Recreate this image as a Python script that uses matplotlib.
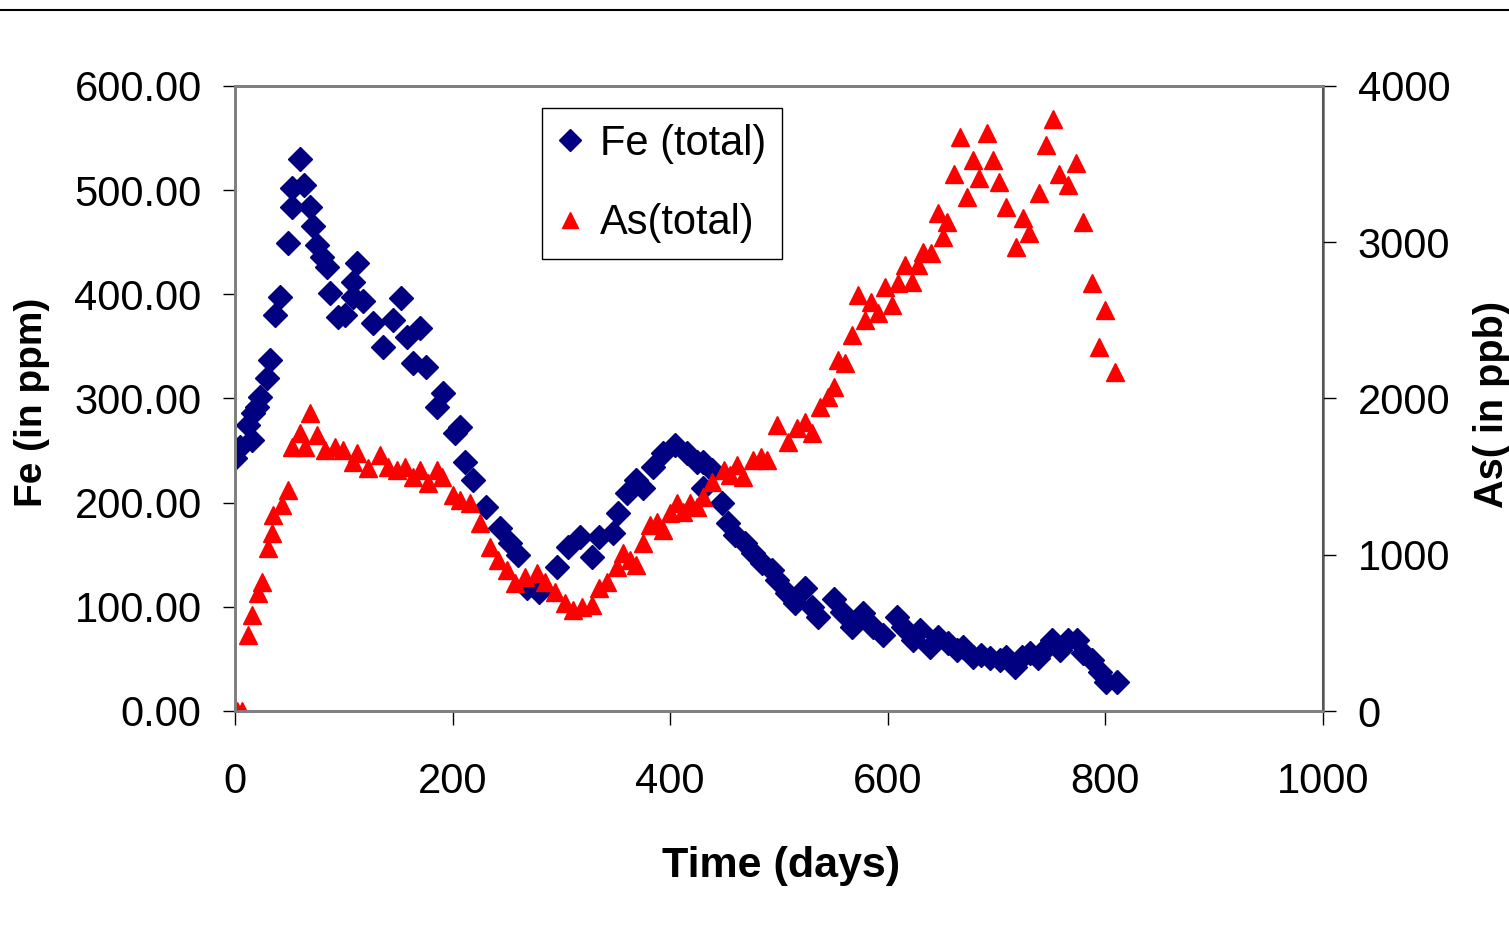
import matplotlib
matplotlib.use('Agg')
import matplotlib.pyplot as plt
from matplotlib.lines import Line2D

plt.rcParams['font.family'] = ['Liberation Sans', 'DejaVu Sans']

# Fe (total), ppm
fe_days = [0, 5, 12, 16, 17, 20, 23, 29, 32, 37, 41, 49, 52, 52, 60, 63, 69, 72, 75, 80,
           85, 87, 95, 101, 108, 108, 112, 118, 127, 136, 145, 153, 158, 164, 170, 176, 186, 191, 202, 207,
           211, 219, 231, 244, 253, 260, 268, 279, 296, 306, 317, 328, 335, 347, 352, 360, 369, 375, 384, 393,
           404, 415, 425, 430, 430, 438, 448, 453, 460, 469, 476, 484, 494, 498, 507, 515, 524, 530, 536, 551,
           558, 567, 577, 586, 596, 608, 614, 623, 630, 639, 646, 655, 664, 669, 678, 686, 694, 703, 709, 717,
           723, 731, 738, 746, 751, 758, 766, 774, 779, 788, 795, 801, 811]
fe_vals = [243, 253, 275, 260, 286, 292, 301, 320, 337, 380, 397, 449, 484, 502, 530, 505, 484, 466, 447, 436,
           426, 401, 378, 380, 397, 412, 430, 394, 372, 349, 375, 396, 359, 334, 368, 330, 292, 305, 267, 273,
           239, 222, 196, 176, 161, 150, 118, 114, 138, 157, 167, 148, 167, 171, 190, 209, 222, 214, 234, 248,
           255, 248, 239, 239, 214, 231, 200, 180, 169, 161, 152, 142, 135, 126, 113, 104, 118, 100, 90, 108,
           95, 81, 94, 81, 73, 90, 81, 68, 78, 61, 71, 65, 59, 61, 52, 54, 51, 49, 52, 42,
           52, 56, 51, 61, 68, 59, 68, 68, 56, 49, 37, 28, 28]

# As (total), ppb
as_days = [2, 6, 12, 16, 21, 25, 30, 34, 35, 43, 49, 52, 60, 64, 69, 75, 83, 92, 99, 108,
           112, 122, 133, 141, 149, 156, 164, 170, 177, 186, 190, 200, 207, 216, 225, 234, 242, 250, 257, 267,
           278, 285, 294, 303, 311, 319, 328, 335, 342, 351, 357, 363, 369, 375, 381, 388, 393, 400, 406, 412,
           418, 425, 430, 438, 449, 455, 461, 467, 476, 483, 489, 498, 508, 517, 524, 530, 538, 545, 551, 554,
           561, 567, 573, 579, 585, 591, 597, 604, 609, 616, 622, 628, 632, 640, 646, 651, 654, 661, 666, 673,
           678, 684, 691, 697, 702, 709, 718, 724, 730, 739, 745, 752, 757, 766, 773, 779, 788, 794, 800, 809]
as_vals = [0, 0, 486, 614, 755, 826, 1043, 1139, 1254, 1318, 1414, 1690, 1779, 1690, 1907, 1766, 1670, 1690, 1670, 1594,
           1651, 1555, 1638, 1562, 1542, 1562, 1498, 1542, 1459, 1542, 1498, 1382, 1350, 1331, 1203, 1050, 966, 902, 819, 858,
           883, 826, 762, 691, 646, 666, 678, 787, 826, 922, 1011, 966, 934, 1075, 1190, 1210, 1158, 1267, 1331, 1274,
           1331, 1306, 1370, 1466, 1542, 1510, 1574, 1498, 1606, 1626, 1606, 1830, 1722, 1811, 1850, 1779, 1946, 2010, 2074, 2246,
           2227, 2406, 2662, 2502, 2618, 2547, 2714, 2598, 2739, 2854, 2746, 2854, 2938, 2931, 3187, 3034, 3130, 3437, 3674, 3290,
           3526, 3411, 3699, 3526, 3386, 3226, 2970, 3155, 3059, 3315, 3622, 3789, 3437, 3366, 3507, 3130, 2739, 2330, 2566, 2170]

fig = plt.figure(figsize=(15.09, 9.46), dpi=100)
ax = fig.add_axes([235/1509, 1 - 711/946, (1323 - 235)/1509, (711 - 86)/946])
ax2 = ax.twinx()

ax.plot(fe_days, fe_vals, 'D', color='#000080', markeredgecolor='#000080', markersize=12, linestyle='none',
        label='Fe (total)')
ax2.plot(as_days, as_vals, '^', color='#ff0000', markeredgecolor='#ff0000', markersize=13, linestyle='none',
         label='As(total)')

ax.set_xlim(0, 1000)
ax.set_ylim(0, 600)
ax2.set_ylim(0, 4000)
ax.set_xticks(range(0, 1001, 200))
ax.set_yticks(range(0, 601, 100))
ax.set_yticklabels(['%.2f' % v for v in range(0, 601, 100)])
ax2.set_yticks(range(0, 4001, 1000))

for a in (ax, ax2):
    for s in a.spines.values():
        s.set_color('#808080')
        s.set_linewidth(2)
ax2.spines['right'].set_color('#555555')
ax2.spines['right'].set_linewidth(1.5)

ax.tick_params(axis='y', direction='out', length=9, width=1, labelsize=30, pad=15)
ax.tick_params(axis='x', direction='out', length=10, width=1, labelsize=30, pad=27)
ax2.tick_params(axis='y', direction='out', length=9, width=1, labelsize=30, pad=16)

ax.set_xlabel('Time (days)', fontsize=31, fontweight='bold')
ax.xaxis.set_label_coords(0.502, -0.216)
ax.set_ylabel('Fe (in ppm)', fontsize=28, fontweight='bold')
ax.yaxis.set_label_coords(-0.170, 0.494)
ax2.set_ylabel('As( in ppb)', fontsize=28.5, fontweight='bold')
ax2.yaxis.set_label_coords(1.138, 0.49)

h1, l1 = ax.get_legend_handles_labels()
h2, l2 = ax2.get_legend_handles_labels()
leg = ax2.legend(h1 + h2, l1 + l2, loc='upper left', bbox_to_anchor=(0.2822, 0.9648), borderaxespad=0,
                 fontsize=30, markerscale=0.9, handlelength=0.6, handletextpad=0.4, borderpad=0.38,
                 labelspacing=0.95, fancybox=False, framealpha=1)
leg.get_frame().set_edgecolor('black')
leg.get_frame().set_linewidth(1)

# rule along the top of the picture
fig.add_artist(Line2D([0, 1], [1 - 10/946, 1 - 10/946], color='black', linewidth=1.5))

fig.savefig('out.png', dpi=100)
